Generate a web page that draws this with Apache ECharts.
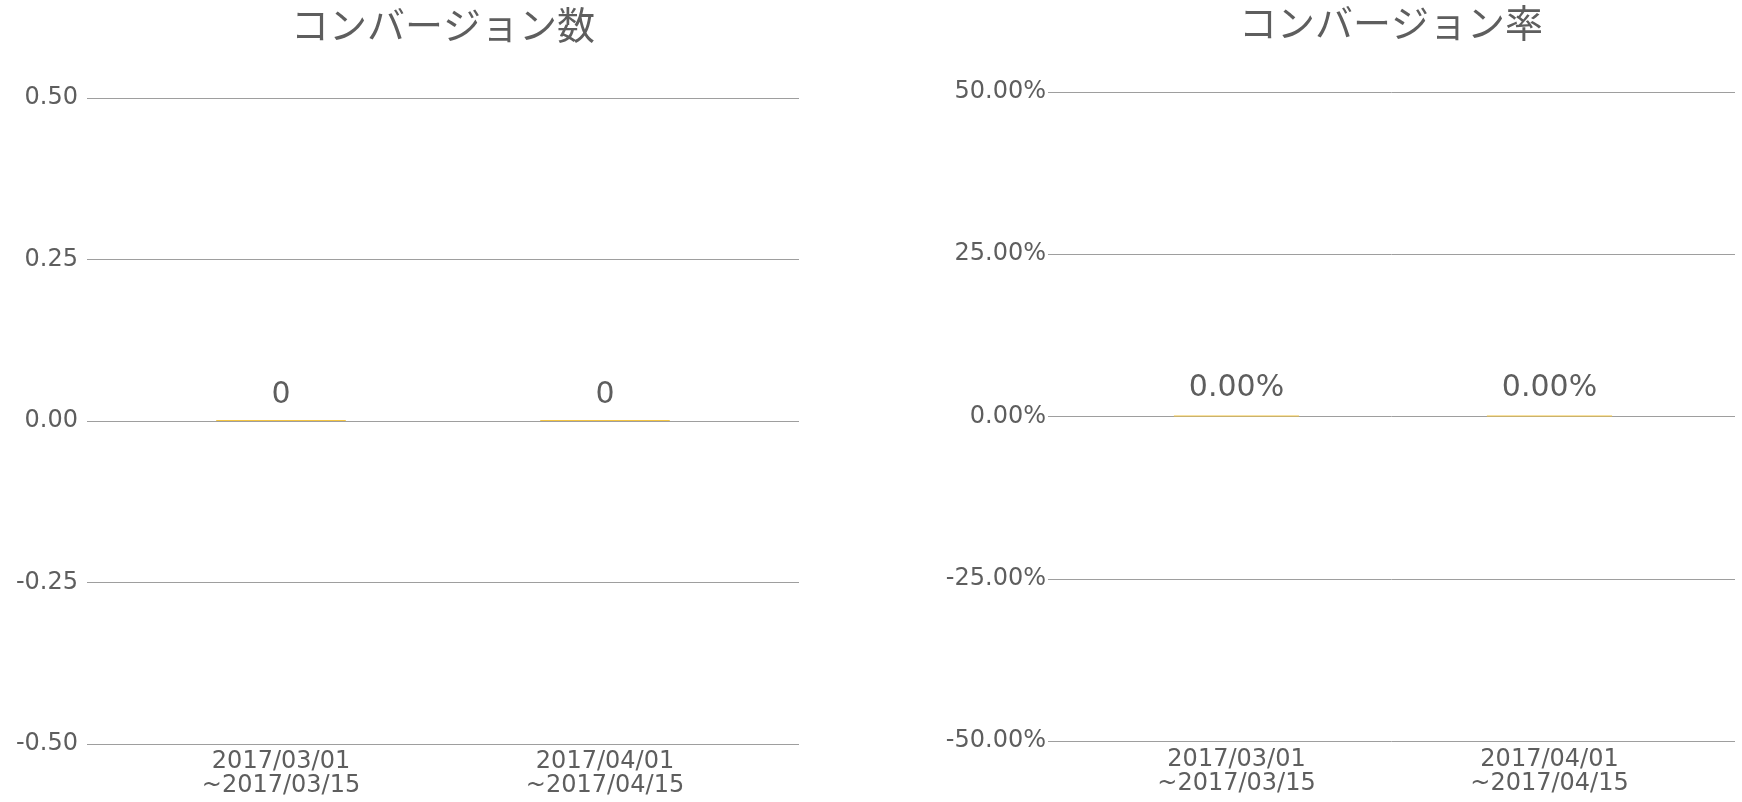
<!DOCTYPE html>
<html>
<head>
<meta charset="utf-8">
<title>コンバージョン</title>
<script src="https://cdn.jsdelivr.net/npm/echarts@6/dist/echarts.min.js"></script>
<style>
  html, body { margin: 0; padding: 0; background: #fff; }
  #chart { width: 1742px; height: 802px; }
</style>
</head>
<body>
<div id="chart"></div>
<script>
// data
const periods = ['2017/03/01\n~2017/03/15', '2017/04/01\n~2017/04/15']
const cvCount = [0, 0]
const cvRate = [0, 0] // %
const countTicks = [-0.5, -0.25, 0, 0.25, 0.5]
const rateTicks = [-50, -25, 0, 25, 50]

const textColor = '#5e5e5e'
const gridColor = '#9e9e9e'
const barColor = '#f4c542'
const numFont = 'DejaVu Sans'

const chart = echarts.init(document.getElementById('chart'))

const tickRange = ticks => ({
  min: ticks[0],
  max: ticks[ticks.length - 1],
  interval: ticks[1] - ticks[0]
})

// wide grid only carries the gridlines and y labels
const lineAxis = (grid, ticks, fmt, margin) => ({
  gridIndex: grid,
  type: 'value',
  ...tickRange(ticks),
  axisLine: { show: false },
  axisTick: { show: false },
  axisLabel: { color: textColor, fontSize: 24, fontFamily: numFont, margin: margin, formatter: fmt },
  splitLine: { lineStyle: { color: gridColor, width: 1 } }
})

const barYAxis = (grid, ticks) => ({
  gridIndex: grid,
  type: 'value',
  ...tickRange(ticks),
  show: false,
  splitLine: { show: false }
})

const catAxis = (grid, margin) => ({
  gridIndex: grid,
  type: 'category',
  data: periods,
  axisLine: { show: false },
  axisTick: { show: false },
  axisLabel: { color: textColor, fontSize: 24, lineHeight: 24, fontFamily: numFont, margin: margin, interval: 0 }
})

const hiddenX = grid => ({ gridIndex: grid, type: 'value', min: 0, max: 1, show: false })

const option = {
  animation: false,
  title: [
    {
      text: 'コンバージョン数',
      left: 443, top: 6, padding: 0, textAlign: 'center',
      textStyle: { fontFamily: 'Noto Sans CJK JP', fontWeight: 'normal', fontSize: 38, color: textColor }
    },
    {
      text: 'コンバージョン率',
      left: 1391, top: 4, padding: 0, textAlign: 'center',
      textStyle: { fontFamily: 'Noto Sans CJK JP', fontWeight: 'normal', fontSize: 38, color: textColor }
    }
  ],
  grid: [
    { left: 87, top: 98, width: 712, height: 646 },
    { left: 119, top: 98, width: 648, height: 646 },
    { left: 1048, top: 92, width: 687, height: 649 },
    { left: 1080, top: 92, width: 626, height: 649 }
  ],
  xAxis: [hiddenX(0), catAxis(1, 6), hiddenX(2), catAxis(3, 7)],
  yAxis: [
    lineAxis(0, countTicks, v => v.toFixed(2), 9),
    barYAxis(1, countTicks),
    lineAxis(2, rateTicks, v => v.toFixed(2) + '%', 2),
    barYAxis(3, rateTicks)
  ],
  series: [
    {
      name: 'コンバージョン数',
      type: 'bar',
      xAxisIndex: 1,
      yAxisIndex: 1,
      data: cvCount,
      barWidth: '40%',
      barMinHeight: 1,
      itemStyle: { color: barColor },
      label: {
        show: true, position: 'top', distance: 10,
        fontSize: 30, fontFamily: numFont, color: textColor,
        formatter: p => String(p.value)
      }
    },
    {
      name: 'コンバージョン率',
      type: 'bar',
      xAxisIndex: 3,
      yAxisIndex: 3,
      data: cvRate,
      barWidth: '40%',
      barMinHeight: 1,
      itemStyle: { color: barColor },
      label: {
        show: true, position: 'top', distance: 12,
        fontSize: 30, fontFamily: numFont, color: textColor,
        formatter: p => p.value.toFixed(2) + '%'
      }
    }
  ]
}

chart.setOption(option)
window.addEventListener('resize', () => chart.resize())
</script>
</body>
</html>
